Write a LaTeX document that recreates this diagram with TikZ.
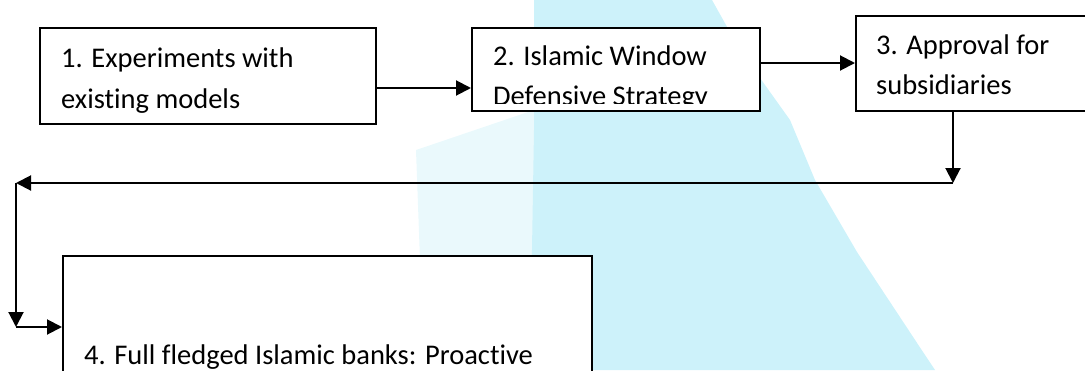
\documentclass[tikz,border=0pt]{standalone}
\usepackage{fontspec}
\setmainfont{Carlito}[Ligatures=NoCommon]
\definecolor{wmark}{RGB}{205,242,250}
\definecolor{wmarklight}{RGB}{234,249,252}
\usetikzlibrary{arrows.meta,shapes,calc}
\tikzstyle{stage}=[rectangle,draw=black,fill=white,line width=2pt,inner sep=0pt]
\tikzstyle{stagetext}=[anchor=base west,align=left,inner sep=0pt,font=\fontsize{28.5}{40.5}\selectfont]
\tikzstyle{edge} = [draw,line width=2pt,-{Triangle[length=15pt,width=15pt]}]

\begin{document}
\begin{tikzpicture}[x=1pt,y=-1pt]

            \path[use as bounding box] (0,0) rectangle (1085,370);
            \clip (0,0) rectangle (1085,370);

            % faint logo in the background
            \fill[wmarklight] (534,110) -- (534,260) -- (420,260) -- (416,150) -- cycle;
            \fill[wmark] (534,0) -- (712,0) -- (740,50) -- (790,120) -- (815,180) -- (857,252) -- (925,355) -- (935,370) -- (530,370) -- (534,130) -- cycle;

            \node[stage,minimum width=336pt,minimum height=96pt] (s1) at (208,76) {};
            \node[stage,minimum width=288pt,minimum height=83pt] (s2) at (616,69.5) {};
            \node[stage,minimum width=260pt,minimum height=95pt] (s3) at (986,63.5) {};
            \node[stage,minimum width=529pt,minimum height=160pt] (s4) at (327.5,336) {};

            \node[stagetext] (t1) at (61,108) {1. Experiments with\\existing models};
            \begin{scope}
                \clip (s2.north west) rectangle ([yshift=9pt]s2.south east);
                \node[stagetext] (t2) at (493,105.5) {2. Islamic Window\\Defensive Strategy};
            \end{scope}
            \node[stagetext] (t3) at (876,94.5) {3. Approval for\\subsidiaries};
            \node[stagetext] (t4) at (84,364) {4. Full fledged Islamic banks: Proactive};

            \coordinate (turnR) at (953,183);
            \coordinate (turnL) at (16,183);
            \coordinate (turnD) at (16,327);

            \path[edge] ([yshift=-12pt]s1.east) -- ([yshift=-12pt]s1.east -| s2.west);
            \path[edge] ([yshift=6.5pt]s2.east) -- ([yshift=6.5pt]s2.east -| s3.west);
            \path[edge] (s3.south -| turnR) -- (turnR);
            \path[edge] (turnR) -- (turnL);
            \path[edge] (turnL) -- (turnD);
            \path[edge] (turnD) -- (turnD -| s4.west);

        \end{tikzpicture}
\end{document}
